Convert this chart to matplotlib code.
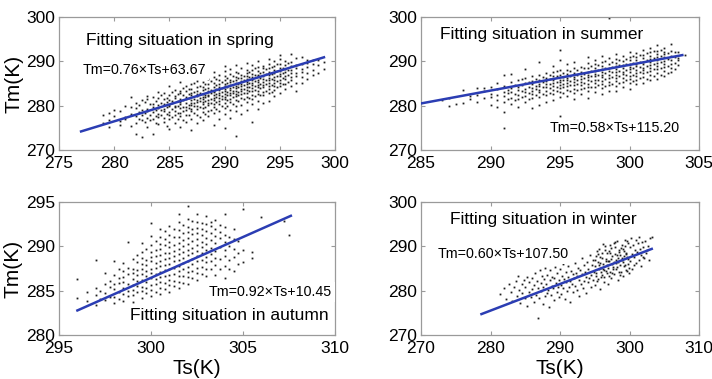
import matplotlib
matplotlib.use("Agg")
import matplotlib.pyplot as plt

plt.rcParams['font.family'] = ['Liberation Sans', 'DejaVu Sans']

# ---------------- data: Ts (surface temperature) vs Tm (weighted mean temperature) ----------------
# Spring: Ts columns and the Tm samples observed at each
spring_ts = [279.0, 279.5, 280.0, 280.5, 281.0, 281.5, 282.0, 282.25, 282.5, 282.75, 283.0, 283.25,
             283.5, 283.75, 284.0, 284.25, 284.5, 284.75, 285.0, 285.25, 285.5, 285.75, 286.0, 286.25,
             286.5, 286.75, 287.0, 287.25, 287.5, 287.75, 288.0, 288.25, 288.5, 288.75, 289.0, 289.25,
             289.5, 289.75, 290.0, 290.25, 290.5, 290.75, 291.0, 291.25, 291.5, 291.75, 292.0, 292.25,
             292.5, 292.75, 293.0, 293.25, 293.5, 293.75, 294.0, 294.25, 294.5, 294.75, 295.0, 295.25,
             295.5, 295.75, 296.0, 296.5, 297.0, 297.5, 298.0, 298.5, 299.0]
spring_tm = [
    [276.2, 277.9], [275.1, 276.8, 278.3], [277.6, 279.1], [275.7, 276.5, 278.8],
    [276.9, 277.4, 280.0], [275.4, 278.2, 279.6, 281.9], [273.7, 276.1, 277.7, 279.4, 280.6],
    [277.0, 278.6, 280.2], [272.9, 276.8, 277.9, 279.0, 281.2], [276.3, 278.4, 280.8],
    [275.2, 277.3, 278.7, 279.3, 281.6, 282.2], [276.7, 278.0, 280.4],
    [273.5, 277.1, 278.5, 279.8, 280.3, 282.0], [276.0, 277.6, 279.1, 281.0],
    [275.8, 277.4, 278.2, 279.5, 280.1, 281.7, 283.1], [277.8, 279.0, 280.7, 282.3],
    [276.3, 277.2, 278.9, 279.3, 280.4, 281.5, 282.8], [275.4, 278.1, 279.7, 280.9, 281.8],
    [274.8, 276.9, 278.0, 278.6, 279.9, 280.2, 281.3, 282.4, 284.5], [277.5, 279.2, 280.6, 281.1, 283.0],
    [276.1, 277.9, 278.8, 279.6, 280.0, 281.7, 282.1, 283.6], [277.0, 278.4, 279.9, 281.0, 282.7],
    [275.3, 277.6, 278.3, 279.4, 280.3, 280.8, 281.6, 282.9, 283.4, 285.4],
    [276.7, 278.9, 279.8, 281.2, 282.4, 284.0],
    [276.4, 278.0, 279.1, 279.6, 280.6, 281.4, 281.9, 283.2, 284.4],
    [277.8, 279.4, 280.2, 281.7, 282.6, 283.8],
    [274.5, 277.1, 278.7, 279.3, 280.1, 280.5, 281.2, 282.3, 282.8, 283.7, 284.8],
    [278.3, 279.9, 280.7, 281.6, 283.0, 285.1],
    [276.0, 278.0, 279.2, 280.0, 280.9, 281.3, 282.1, 282.6, 283.3, 284.2, 285.6],
    [277.4, 279.6, 281.0, 281.8, 282.9, 284.5],
    [276.7, 278.5, 279.4, 280.3, 280.8, 281.5, 282.0, 282.7, 283.5, 284.1, 285.3, 286.9],
    [278.1, 279.7, 281.1, 281.9, 282.4, 283.8, 285.0],
    [277.6, 278.8, 280.1, 280.6, 281.3, 282.2, 282.5, 283.3, 284.0, 284.9, 286.0],
    [279.1, 280.5, 281.6, 282.8, 283.6, 285.5],
    [275.7, 278.3, 279.8, 280.4, 281.2, 281.7, 282.3, 283.0, 283.4, 284.3, 285.2, 286.4, 287.5],
    [279.3, 280.9, 281.9, 282.6, 283.7, 284.7, 286.1],
    [277.1, 278.9, 280.3, 281.0, 281.8, 282.4, 282.9, 283.6, 284.2, 284.8, 285.9, 287.0],
    [280.0, 281.4, 282.1, 283.1, 284.0, 285.4],
    [274.9, 278.1, 279.5, 280.7, 281.5, 282.0, 282.7, 283.2, 283.8, 284.4, 285.0, 285.7, 286.6, 287.8, 288.9],
    [279.9, 281.2, 282.3, 283.0, 284.1, 285.2, 286.3],
    [277.3, 279.0, 280.8, 281.6, 282.5, 282.9, 283.5, 284.0, 284.6, 285.3, 285.9, 287.1, 288.2],
    [280.4, 281.9, 282.8, 283.4, 284.3, 285.6, 286.8],
    [273.2, 278.7, 280.0, 281.3, 282.2, 282.6, 283.3, 283.9, 284.5, 285.1, 285.8, 286.5, 287.7, 289.1],
    [281.0, 282.4, 283.1, 284.2, 284.9, 286.2, 287.3],
    [278.2, 280.2, 281.8, 282.7, 283.4, 283.8, 284.4, 285.0, 285.5, 286.3, 287.0, 288.4],
    [281.5, 282.9, 283.7, 284.7, 285.7, 286.8],
    [279.1, 280.9, 282.0, 282.8, 283.6, 284.1, 284.8, 285.4, 286.0, 286.7, 287.4, 288.1, 289.6],
    [281.7, 283.2, 284.3, 285.2, 286.4, 287.6],
    [276.4, 280.3, 281.6, 282.5, 283.3, 284.0, 284.6, 285.2, 285.7, 286.5, 287.2, 288.0, 289.2],
    [282.2, 283.5, 284.5, 285.5, 286.9, 288.5],
    [279.3, 281.1, 282.6, 283.2, 284.2, 284.7, 285.3, 285.9, 286.6, 287.0, 287.9, 288.7, 290.0],
    [282.4, 283.9, 285.0, 286.2, 287.3],
    [280.6, 282.3, 283.0, 284.1, 284.6, 285.4, 286.1, 286.8, 287.5, 288.4, 289.0],
    [283.4, 284.8, 285.8, 287.1, 288.2],
    [281.0, 282.9, 283.8, 284.5, 285.2, 285.7, 286.3, 287.0, 287.7, 288.5, 289.3, 290.6],
    [283.1, 284.7, 286.0, 287.2, 288.8],
    [282.1, 283.6, 284.4, 285.1, 285.9, 286.5, 287.3, 288.0, 288.9, 290.0],
    [284.2, 285.5, 286.7, 287.8, 289.4],
    [282.9, 284.5, 285.2, 285.8, 286.6, 287.2, 287.9, 288.6, 289.4, 290.5, 291.4],
    [284.8, 286.2, 287.4, 288.5],
    [283.7, 285.0, 286.0, 286.7, 287.5, 288.3, 289.1, 290.1], [285.4, 286.9, 288.0, 289.6],
    [284.4, 285.8, 286.4, 287.3, 288.1, 289.0, 289.8, 291.7],
    [283.4, 285.2, 286.6, 287.4, 288.5, 289.2, 290.7], [285.1, 286.5, 287.7, 288.3, 289.5, 290.9],
    [286.0, 287.3, 288.7, 289.7, 290.3], [286.9, 288.1, 289.4, 290.2], [287.4, 289.1, 290.4],
    [288.3, 289.8],
]

# Summer
summer_ts = [286.5, 287.0, 287.5, 288.0, 288.5, 289.0, 289.5, 290.0, 290.5, 291.0, 291.25, 291.5,
             291.75, 292.0, 292.25, 292.5, 292.75, 293.0, 293.25, 293.5, 293.75, 294.0, 294.25, 294.5,
             294.75, 295.0, 295.25, 295.5, 295.75, 296.0, 296.25, 296.5, 296.75, 297.0, 297.25, 297.5,
             297.75, 298.0, 298.25, 298.5, 298.75, 299.0, 299.25, 299.5, 299.75, 300.0, 300.25, 300.5,
             300.75, 301.0, 301.25, 301.5, 301.75, 302.0, 302.25, 302.5, 302.75, 303.0, 303.25, 303.5,
             304.0]
summer_tm = [
    [281.2], [279.9, 281.8], [280.4], [280.7, 283.5], [281.6, 282.2], [280.8, 282.4, 283.9],
    [281.7, 283.2, 284.0], [280.2, 281.9, 282.7, 284.2], [279.7, 281.3, 282.5, 283.7, 285.1],
    [275.0, 278.5, 280.9, 282.1, 283.0, 284.4, 286.9], [281.6, 282.8, 283.6],
    [280.4, 281.7, 283.1, 283.9, 285.3, 287.2], [281.2, 282.6, 284.7],
    [279.6, 281.4, 282.3, 283.5, 284.1, 285.7], [282.0, 283.2, 284.6, 286.0],
    [280.8, 282.1, 283.0, 283.8, 285.1, 286.3, 288.2], [281.5, 282.8, 284.3, 285.4],
    [279.4, 281.7, 282.6, 283.4, 284.0, 284.9, 285.5, 286.7], [282.3, 283.7, 284.5, 286.1],
    [280.1, 281.9, 283.0, 283.6, 284.4, 285.0, 285.9, 287.0, 289.8], [282.7, 284.1, 285.3, 286.4],
    [280.9, 282.4, 283.3, 284.2, 284.8, 285.6, 286.3, 287.3], [282.9, 283.9, 285.0, 286.0, 287.0],
    [281.2, 282.7, 283.6, 284.5, 285.1, 285.8, 286.6, 287.7, 288.9], [283.2, 284.3, 285.4, 286.8, 287.9],
    [277.6, 281.9, 283.1, 284.0, 284.6, 285.3, 285.9, 286.9, 288.0, 290.3, 292.5],
    [282.8, 284.1, 285.0, 285.7, 286.5, 287.4],
    [282.2, 283.5, 284.4, 285.2, 285.8, 286.3, 287.1, 288.1, 289.4], [283.3, 284.7, 285.6, 286.7, 287.8],
    [281.5, 282.9, 283.8, 284.6, 285.4, 286.0, 286.5, 287.3, 288.4, 289.9],
    [283.6, 284.9, 285.9, 287.0, 288.1],
    [282.6, 283.7, 284.7, 285.3, 286.1, 286.8, 287.5, 288.8], [284.0, 285.2, 286.3, 287.2, 288.5],
    [281.8, 283.2, 284.3, 285.0, 285.9, 286.4, 287.0, 287.7, 288.6, 289.6, 291.0],
    [284.1, 285.5, 286.7, 287.9, 289.0],
    [283.1, 284.2, 285.1, 285.7, 286.6, 287.2, 287.9, 288.4, 289.3, 290.4],
    [284.6, 285.8, 286.9, 288.0, 289.1],
    [282.7, 283.9, 284.9, 285.6, 286.4, 287.0, 287.6, 288.2, 288.9, 289.8, 291.3],
    [284.5, 286.1, 287.3, 288.5, 290.0],
    [283.4, 284.7, 285.4, 286.2, 287.0, 287.8, 288.6, 289.5, 290.7, 299.7],
    [285.0, 286.5, 287.5, 288.8, 289.9],
    [283.2, 284.5, 285.5, 286.2, 286.9, 287.6, 288.3, 289.0, 289.6, 290.5, 291.7],
    [285.1, 286.6, 287.8, 289.1, 290.3],
    [284.3, 285.4, 286.3, 287.1, 287.7, 288.5, 289.2, 290.0, 291.1],
    [285.7, 286.9, 288.1, 289.4, 290.6],
    [283.8, 285.2, 286.0, 286.8, 287.5, 288.2, 288.8, 289.5, 290.2, 291.0, 292.1],
    [285.6, 287.0, 288.4, 289.7, 291.3],
    [284.9, 285.9, 286.7, 287.4, 288.1, 288.9, 289.4, 290.3, 290.9, 291.8],
    [286.2, 287.6, 288.7, 289.9, 291.4],
    [285.2, 286.4, 287.3, 288.0, 288.6, 289.3, 289.9, 290.7, 291.5, 292.5],
    [286.0, 287.7, 289.0, 290.4, 291.9],
    [285.9, 287.0, 287.9, 288.5, 289.2, 289.8, 290.5, 291.1, 292.0, 292.9],
    [286.6, 288.2, 289.5, 290.8, 292.3],
    [286.1, 287.4, 288.3, 289.0, 289.6, 290.3, 291.0, 291.6, 292.4, 293.7],
    [286.9, 288.6, 289.9, 291.3, 292.6],
    [286.7, 287.8, 288.7, 289.4, 290.1, 290.9, 291.7, 292.2, 293.1],
    [287.3, 288.9, 290.5, 291.8],
    [287.6, 288.5, 289.5, 290.3, 291.2, 292.4, 293.9], [288.3, 289.7, 291.0, 292.1],
    [289.1, 290.2, 290.8, 292.0], [291.5],
]

# Autumn
autumn_ts = [296.0, 296.5, 297.0, 297.25, 297.5, 297.75, 298.0, 298.25, 298.5, 298.75, 299.0, 299.25,
             299.5, 299.75, 300.0, 300.25, 300.5, 300.75, 301.0, 301.25, 301.5, 301.75, 302.0, 302.25,
             302.5, 302.75, 303.0, 303.25, 303.5, 303.75, 304.0, 304.25, 304.5, 304.75, 305.0, 305.5,
             306.0, 307.25, 307.5]
autumn_tm = [
    [284.2, 286.3], [283.8, 284.9], [283.4, 284.5, 285.3, 288.5], [284.1, 285.0],
    [283.9, 284.7, 285.8, 287.0], [284.3, 285.4, 286.1],
    [283.6, 284.3, 285.2, 285.7, 286.8, 288.4], [284.1, 284.9, 285.9, 286.4, 287.4],
    [283.8, 284.6, 285.3, 286.0, 286.5, 287.2, 288.1], [284.4, 285.0, 285.8, 286.9, 287.6, 290.5],
    [283.7, 284.5, 285.1, 285.6, 286.3, 287.0, 287.5, 288.6],
    [284.8, 285.5, 286.1, 286.8, 287.3, 288.2, 289.0],
    [284.2, 285.0, 285.4, 286.2, 286.9, 287.4, 288.0, 288.7, 289.4, 290.4],
    [284.7, 285.3, 286.0, 286.6, 287.2, 287.9, 288.5, 289.7],
    [284.4, 285.1, 285.6, 286.4, 287.0, 287.5, 288.3, 288.8, 289.4, 290.1, 291.2, 292.6],
    [284.9, 285.7, 286.3, 286.9, 287.6, 288.1, 288.9, 289.6, 290.6],
    [284.6, 285.3, 286.0, 286.5, 287.1, 287.8, 288.4, 289.0, 289.7, 290.3, 291.1, 292.0],
    [285.2, 285.9, 286.7, 287.3, 287.9, 288.6, 289.3, 290.1, 290.8, 291.7],
    [284.9, 285.6, 286.2, 286.8, 287.4, 288.0, 288.7, 289.2, 289.9, 290.5, 291.3, 292.3],
    [285.5, 286.1, 286.9, 287.6, 288.3, 288.9, 289.5, 290.2, 291.0, 292.0],
    [285.3, 286.0, 286.6, 287.2, 287.8, 288.5, 289.1, 289.7, 290.4, 291.1, 291.8, 292.7, 293.6],
    [285.9, 286.7, 287.4, 288.1, 288.7, 289.4, 290.0, 290.7, 291.5, 292.4],
    [285.8, 286.5, 287.1, 287.7, 288.4, 289.0, 289.6, 290.3, 290.9, 291.6, 292.2, 293.1, 294.5],
    [286.4, 287.2, 288.0, 288.6, 289.3, 289.8, 290.6, 291.4, 292.0, 292.9],
    [286.2, 287.0, 287.6, 288.3, 288.9, 289.5, 290.2, 290.8, 291.5, 292.1, 292.8, 293.7],
    [286.9, 287.7, 288.5, 289.2, 289.9, 290.5, 291.3, 292.0, 292.6],
    [286.7, 287.5, 288.2, 288.8, 289.6, 290.3, 290.9, 291.7, 292.5, 293.4],
    [287.4, 288.3, 289.1, 289.8, 290.7, 291.5, 292.3, 292.8],
    [286.8, 287.9, 288.7, 289.5, 290.4, 291.2, 292.0, 293.0],
    [287.5, 288.6, 289.9, 290.9, 291.6, 292.4],
    [286.4, 287.8, 288.9, 289.6, 290.5, 291.3, 292.2, 293.6],
    [287.4, 288.5, 290.0, 291.0], [287.2, 288.8, 289.7, 290.8, 291.9], [288.0, 289.2, 290.6],
    [288.2, 289.6, 294.2], [288.7, 289.4], [293.3], [292.9], [291.3],
]

# Winter (Ts values are not binned)
winter_ts = [
    281.4, 281.9, 282.3, 282.6, 282.9, 283.1, 283.4, 283.6, 283.8, 284.0, 284.1, 284.3, 284.5, 284.6,
    284.8, 284.9, 285.0, 285.2, 285.3, 285.5, 285.6, 285.8, 285.9, 286.0, 286.2,
    286.3, 286.4, 286.5, 286.7, 286.8, 286.9, 287.0, 287.1, 287.2, 287.3, 287.4, 287.5, 287.6, 287.7,
    287.8, 287.9, 288.0, 288.1, 288.2, 288.3, 288.4, 288.5, 288.6, 288.7, 288.8, 288.9, 289.0, 289.1,
    289.2, 289.3, 289.4, 289.5, 289.6, 289.7, 289.8, 289.9, 290.0, 290.1, 290.2, 290.3, 290.4, 290.5,
    290.6, 290.7, 290.8, 290.9, 291.0, 291.1, 291.2, 291.3, 291.4, 291.5, 291.6, 291.7, 291.8,
    291.9, 292.0, 292.1, 292.2, 292.3, 292.4, 292.5, 292.6, 292.7, 292.8, 292.9, 293.0, 293.1, 293.2,
    293.3, 293.4, 293.5, 293.6, 293.7, 293.8, 293.9, 294.0, 294.1, 294.2, 294.3, 294.4, 294.5, 294.6,
    294.7, 294.8, 294.9, 295.0, 295.1, 295.2, 295.3, 295.4, 295.5, 295.6, 295.7, 295.8, 295.9, 296.0,
    296.1, 296.2, 296.3, 296.4, 296.5, 296.6, 296.7, 296.8, 296.9, 297.0, 297.1, 297.2, 297.3, 297.4,
    297.5, 297.6, 297.7, 297.8, 297.9, 298.0, 298.1, 298.2, 298.3, 298.4, 298.5, 298.6, 298.7, 298.8,
    295.05, 295.25, 295.45, 295.65, 295.85, 296.05, 296.25, 296.45, 296.65, 296.85, 297.05, 297.25,
    297.45, 297.65, 297.85, 298.05, 298.25, 298.45, 298.65, 298.85, 299.05, 299.25, 299.45, 299.65,
    299.85, 295.15, 295.35, 295.55, 295.75, 295.95, 296.15, 296.35, 296.55, 296.75, 296.95, 297.15,
    297.35, 297.55, 297.75, 297.95, 298.15, 298.35, 298.55, 298.75, 298.95, 299.15, 299.35, 299.55,
    299.75, 299.95,
    298.9, 299.0, 299.1, 299.2, 299.3, 299.4, 299.5, 299.6, 299.7, 299.8, 299.9, 300.0, 300.1, 300.2,
    300.3, 300.4, 300.5, 300.6, 300.7, 300.8, 300.9, 301.0, 301.1, 301.2, 301.3, 301.4, 301.5, 301.6,
    301.7, 301.8, 301.9, 302.0, 302.2, 302.4, 302.6, 302.8, 303.0, 303.2, 302.1, 302.5,
]
winter_tm = [
    279.2, 280.6, 278.1, 281.4, 279.7, 277.6, 280.8, 282.2, 278.9, 283.3, 280.1, 277.2, 281.6, 279.4,
    282.5, 278.3, 280.9, 276.6, 283.0, 279.8, 281.9, 278.6, 282.8, 280.3, 277.5,
    281.2, 283.9, 279.1, 282.1, 280.6, 273.8, 278.4, 284.6, 281.7, 279.9, 283.2, 277.0, 280.8, 282.6,
    278.9, 285.1, 281.4, 279.5, 283.6, 280.2, 276.3, 282.3, 284.7, 279.0, 281.0, 283.0, 280.5, 277.9,
    282.8, 285.4, 281.8, 279.7, 283.9, 280.9, 278.5, 282.4, 284.8, 281.3, 279.2, 283.4, 286.0, 280.6,
    282.7, 278.2, 284.2, 281.9, 279.9, 283.1, 285.6, 280.8, 282.2, 277.4, 284.5, 281.5, 283.7,
    279.6, 282.9, 286.3, 281.0, 284.0, 280.2, 283.3, 285.2, 278.8, 282.5, 284.6, 281.6, 287.4, 283.8,
    280.7, 285.7, 282.2, 284.3, 279.5, 283.0, 286.5, 281.9, 284.9, 282.8, 288.1, 280.9, 283.6, 285.9,
    282.3, 287.0, 284.2, 281.3, 285.5, 283.2, 289.0, 286.4, 282.6, 284.8, 287.6, 280.4, 285.1, 283.5,
    288.4, 286.1, 282.0, 284.6, 290.0, 287.1, 283.9, 285.8, 281.6, 288.9, 286.7, 284.3, 289.6, 282.9,
    287.9, 285.4, 290.7, 283.7, 288.3, 286.2, 284.8, 291.3, 287.4, 282.4, 289.2, 285.7, 288.0, 284.1,
    286.9, 284.0, 288.2, 285.9, 283.1, 287.3, 285.0, 289.1, 284.4, 286.6, 283.4, 288.5,
    286.0, 284.9, 289.8, 287.0, 285.3, 288.7, 283.6, 290.3, 286.4, 288.9, 284.7, 287.6,
    290.8, 287.8, 282.1, 289.5, 286.2, 284.1, 290.6, 283.0, 286.8, 288.6, 285.2, 290.2,
    287.1, 283.9, 286.4, 291.0, 288.1, 286.5, 284.3, 289.6, 287.3, 285.6, 291.5, 288.2,
    286.1, 283.9,
    286.9, 289.4, 283.3, 287.8, 290.1, 285.9, 288.6, 284.5, 291.1, 287.2, 285.1, 289.9, 286.6, 291.8,
    288.3, 284.9, 290.4, 287.5, 285.8, 289.1, 291.4, 286.3, 288.7, 290.7, 287.0, 292.2, 289.5, 285.6,
    288.1, 290.9, 287.7, 289.8, 291.2, 288.4, 290.0, 286.9, 291.8, 292.2, 287.4, 289.1,
]

# Fitted regressions Tm = a*Ts + b and the Ts span each line covers
fit_slope = [0.76, 0.58, 0.92, 0.60]
fit_intercept = [63.67, 115.20, 10.45, 107.50]
fit_ts_min = [277.0, 285.0, 296.0, 278.7]
fit_ts_max = [299.0, 303.8, 307.6, 303.2]
season_names = ["spring", "summer", "autumn", "winter"]


def flatten(cols, vals):
    xs, ys = [], []
    for x, col in zip(cols, vals):
        for y in col:
            xs.append(x)
            ys.append(y)
    return xs, ys


scatter_data = [flatten(spring_ts, spring_tm), flatten(summer_ts, summer_tm),
                flatten(autumn_ts, autumn_tm), (winter_ts, winter_tm)]

# ---------------- figure ----------------
fig = plt.figure(figsize=(7.12, 3.79), dpi=100)
W, H = 712, 379
boxes = [(59, 17, 335, 150), (421, 17, 699, 150), (59, 202, 335, 335), (421, 202, 699, 335)]
xlims = [(275, 300), (285, 305), (295, 310), (270, 310)]
ylims = [(270, 300), (270, 300), (280, 295), (270, 300)]
xsteps = [5, 5, 5, 10]
ysteps = [10, 10, 5, 10]
title_pos = [(0.098, 0.827, 'left'), (0.068, 0.865, 'left'), (0.257, 0.143, 'left'), (0.104, 0.865, 'left')]
eq_pos = [(0.087, 0.60, 'left'), (0.93, 0.165, 'right'), (0.99, 0.323, 'right'), (0.061, 0.61, 'left')]

line_color = '#2b3db3'
spine_color = '#9a9a9a'

for i in range(4):
    l, t, r, b = boxes[i]
    ax = fig.add_axes([l / W, 1 - b / H, (r - l) / W, (b - t) / H])
    xs, ys = scatter_data[i]
    ax.plot(xs, ys, linestyle='none', marker='s', markersize=1.3, markeredgewidth=0,
            color='#1e1e1e', zorder=2)

    a, c = fit_slope[i], fit_intercept[i]
    x0, x1 = fit_ts_min[i], fit_ts_max[i]
    ax.plot([x0, x1], [a * x0 + c, a * x1 + c], color=line_color, linewidth=1.8, zorder=3)

    ax.set_xlim(*xlims[i])
    ax.set_ylim(*ylims[i])
    ax.set_xticks(range(xlims[i][0], xlims[i][1] + 1, xsteps[i]))
    ax.set_yticks(range(ylims[i][0], ylims[i][1] + 1, ysteps[i]))
    ax.tick_params(direction='in', length=3, width=0.8, color=spine_color, top=True, right=True,
                   labelsize=12.5)
    ax.tick_params(axis='x', pad=4.5)
    ax.tick_params(axis='y', pad=3)
    for s in ax.spines.values():
        s.set_color(spine_color)
        s.set_linewidth(0.9)

    tx, ty, tha = title_pos[i]
    ax.text(tx, ty, f"Fitting situation in {season_names[i]}", transform=ax.transAxes,
            ha=tha, va='center', fontsize=12.5, zorder=5,
            bbox=dict(facecolor='white', edgecolor='none', pad=1))
    ex, ey, eha = eq_pos[i]
    ax.text(ex, ey, f"Tm={a:.2f}\u00d7Ts+{c:.2f}", transform=ax.transAxes,
            ha=eha, va='center', fontsize=10.3, zorder=5,
            bbox=dict(facecolor='white', edgecolor='none', pad=2))

    if i in (0, 2):
        ax.set_ylabel("Tm(K)", fontsize=15, labelpad=2)
    if i in (2, 3):
        ax.set_xlabel("Ts(K)", fontsize=15, labelpad=2)

fig.savefig("out.png", dpi=100)
